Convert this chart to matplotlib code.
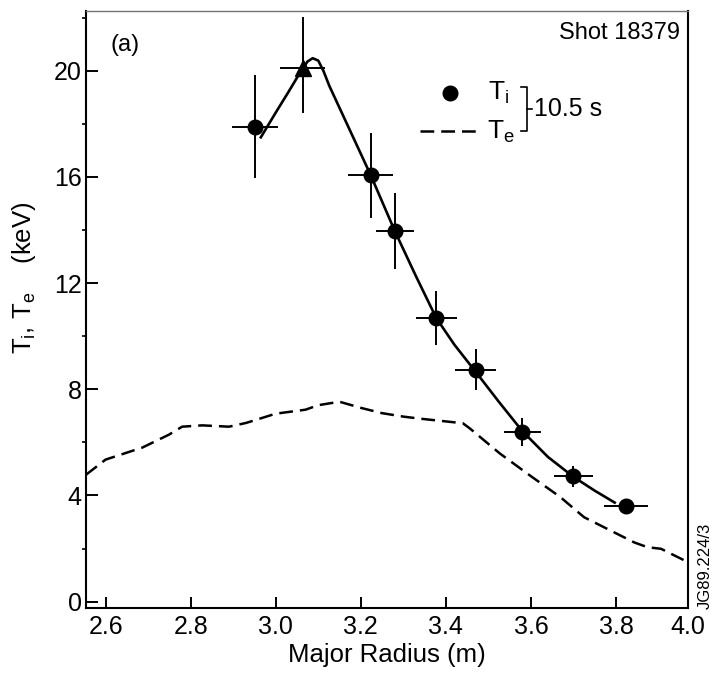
import numpy as np
import matplotlib.pyplot as plt
from matplotlib.ticker import MultipleLocator

plt.rcParams['font.family'] = ['Liberation Sans', 'DejaVu Sans']
plt.rcParams['mathtext.fontset'] = 'custom'
plt.rcParams['mathtext.rm'] = 'Liberation Sans'

# ion temperature points (keV) with error bars
ti_r = [2.952, 3.223, 3.280, 3.378, 3.470, 3.580, 3.700, 3.824]
ti_t = [17.89, 16.06, 13.96, 10.68, 8.74, 6.40, 4.72, 3.60]
ti_rerr = [0.054, 0.052, 0.045, 0.049, 0.049, 0.044, 0.046, 0.051]
ti_terr = [1.95, 1.60, 1.42, 1.03, 0.78, 0.52, 0.39, 0.20]

# the triangle point near the peak
tri_r = [3.063]
tri_t = [20.09]
tri_rerr = [0.053]
tri_terr_lo = [1.70]
tri_terr_hi = [1.95]

# solid fit through Ti
fit_r = [2.965, 3.00, 3.03, 3.06, 3.075, 3.087, 3.10, 3.112, 3.126, 3.2235,
         3.28, 3.33, 3.3776, 3.42, 3.47, 3.525, 3.58, 3.64, 3.70, 3.75, 3.797]
fit_t = [17.49, 18.42, 19.2, 20.0, 20.35, 20.47, 20.38, 20.0, 19.43, 16.06,
         13.96, 12.25, 10.68, 9.68, 8.66, 7.52, 6.42, 5.45, 4.70, 4.18, 3.73]

# electron temperature (dashed)
te_r = [2.554, 2.60, 2.659, 2.686, 2.749, 2.78, 2.827, 2.89, 2.93, 3.00, 3.07, 3.10, 3.15,
        3.20, 3.25, 3.30, 3.335, 3.44, 3.456, 3.527, 3.597, 3.669, 3.725, 3.787, 3.843,
        3.874, 3.906, 3.97]
te_t = [4.78, 5.35, 5.66, 5.8, 6.29, 6.59, 6.64, 6.59, 6.73, 7.08, 7.23, 7.4, 7.53,
        7.3, 7.1, 6.97, 6.9, 6.72, 6.53, 5.58, 4.76, 3.94, 3.18, 2.68, 2.23,
        2.05, 1.99, 1.48]

x_ticks = [2.6, 2.8, 3.0, 3.2, 3.4, 3.6, 3.8, 3.97]
x_labels = ['2.6', '2.8', '3.0', '3.2', '3.4', '3.6', '3.8', '4.0']
y_ticks = [0, 4, 8, 12, 16, 20]


def make_plot():
	fig = plt.figure(figsize=(7.12, 6.85), dpi=100)
	ax = fig.add_axes([0.1208, 0.1124, 0.8459, 0.8716])

	ax.plot(te_r, te_t, c='black', lw=1.8, dashes=(5.5, 2.8))
	ax.plot(fit_r, fit_t, c='black', lw=1.9)

	ax.errorbar(ti_r, ti_t, xerr=ti_rerr, yerr=ti_terr, fmt='o', c='black',
				ms=10.5, elinewidth=1.4, capsize=0)
	ax.errorbar(tri_r, tri_t, xerr=tri_rerr, yerr=[tri_terr_lo, tri_terr_hi], fmt='^',
				c='black', ms=11, elinewidth=1.4, capsize=0)

	ax.set_xlim(2.554, 3.97)
	ax.set_ylim(-0.24, 22.25)
	ax.set_xticks(x_ticks)
	ax.set_xticklabels(x_labels)
	ax.set_yticks(y_ticks)
	ax.yaxis.set_minor_locator(MultipleLocator(2))
	ax.tick_params(axis='both', direction='in', labelsize=18, width=1.4)
	ax.tick_params(axis='x', length=7.7, pad=5)
	ax.tick_params(axis='y', which='major', length=8.5, pad=3)
	ax.tick_params(axis='y', which='minor', length=3, width=1.2)

	for side in ['left', 'bottom', 'right']:
		ax.spines[side].set_linewidth(1.5)
	ax.spines['top'].set_linewidth(1.0)
	ax.spines['top'].set_color('0.45')

	ax.set_xlabel('Major Radius (m)', fontsize=18.5, labelpad=3)
	ax.set_ylabel(r'T$_\mathregular{i}$, T$_\mathregular{e}$    (keV)', fontsize=18.5)
	ax.yaxis.set_label_coords(-0.08, 0.553)

	ax.text(0.987, 0.963, 'Shot 18379', transform=ax.transAxes, ha='right', va='center', fontsize=17)
	ax.text(0.065, 0.943, '(a)', transform=ax.transAxes, ha='center', va='center', fontsize=17)

	# hand drawn key
	ax.plot([0.605], [0.863], 'o', c='black', ms=10.5, transform=ax.transAxes)
	ax.plot([0.555, 0.648], [0.799, 0.799], c='black', lw=1.8, dashes=(5.5, 2.8), transform=ax.transAxes)
	ax.text(0.668, 0.863, r'T$_\mathregular{i}$', transform=ax.transAxes, va='center', fontsize=19)
	ax.text(0.666, 0.797, r'T$_\mathregular{e}$', transform=ax.transAxes, va='center', fontsize=19)
	bx = 0.732
	ax.plot([bx - 0.01, bx, bx, bx - 0.01], [0.873, 0.873, 0.799, 0.799], c='black', lw=1.2,
			transform=ax.transAxes)
	ax.plot([bx, bx + 0.008], [0.836, 0.836], c='black', lw=1.2, transform=ax.transAxes)
	ax.text(bx + 0.011, 0.836, '10.5 s', transform=ax.transAxes, va='center', fontsize=18)

	fig.text(0.99, 0.174, 'JG89.224/3', rotation=90, ha='center', va='center', fontsize=12)

	fig.savefig('out.png', dpi=100)


if __name__ == "__main__":
	make_plot()
